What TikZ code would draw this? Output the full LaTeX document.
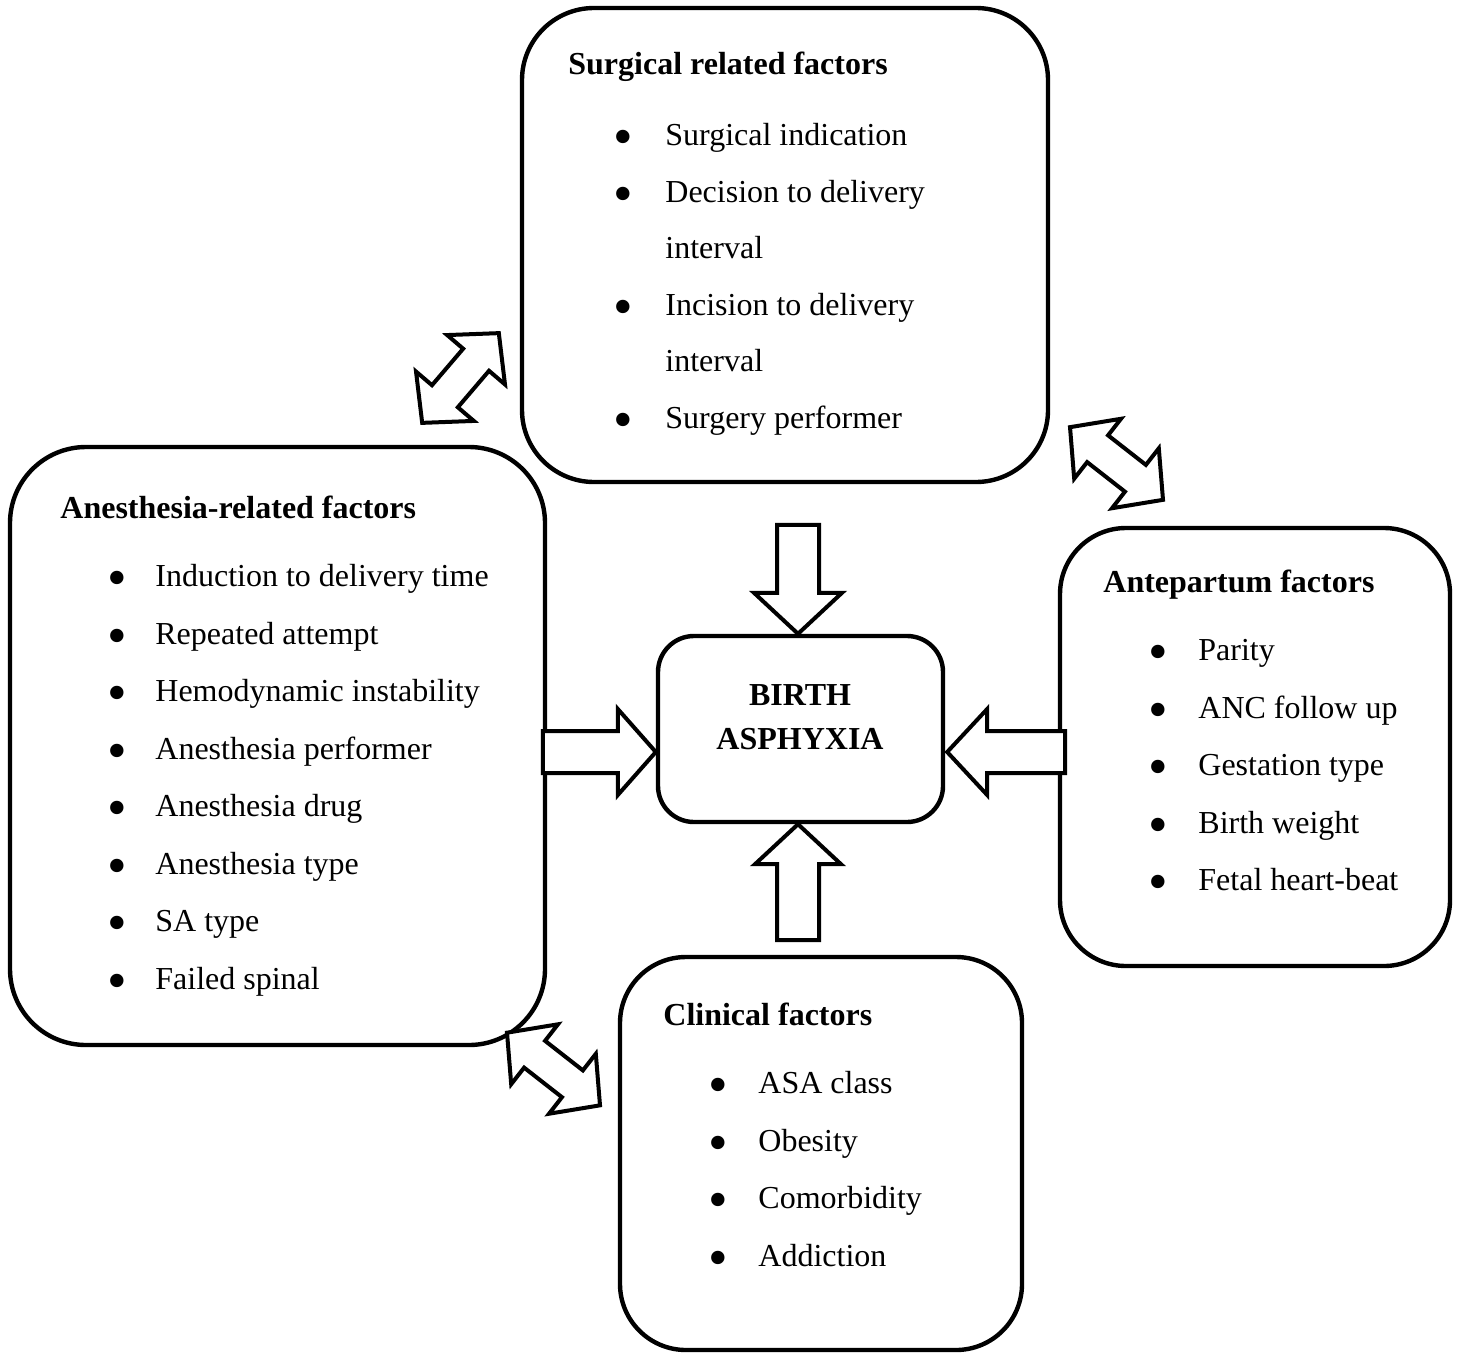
\documentclass[tikz,border=0pt]{standalone}
\usepackage{fontspec}
\setmainfont{Liberation Serif}
\usetikzlibrary{calc}
\begin{document}
\begin{tikzpicture}[x=0.5pt,y=-0.5pt,
  box/.style={draw, line width=2.2pt, inner sep=0pt},
  blk/.style={draw, line width=2pt, line join=miter, fill=white},
  hd/.style={anchor=base west, inner sep=0pt, font=\fontsize{16}{19}\selectfont\bfseries},
  itm/.style={anchor=base west, inner sep=0pt, font=\fontsize{16}{19}\selectfont},
  bul/.style={anchor=center, inner sep=0pt, yshift=1pt, font=\fontsize{28}{28}\selectfont},
  dbl/.pic={\draw[blk] (-59,0) -- (-24,-38) -- (-24,-17) -- (24,-17) -- (24,-38) -- (59,0)
      -- (24,38) -- (24,17) -- (-24,17) -- (-24,38) -- cycle;}
]
\useasboundingbox (0,0) rectangle (1460,1354);

% boxes
\node[box, rounded corners=36pt, minimum width=263pt, minimum height=237pt] (surg) at (785,245) {};
\node[box, rounded corners=38pt, minimum width=267.5pt, minimum height=299pt] (anes) at (277.5,746) {};
\node[box, rounded corners=18pt, minimum width=142.5pt, minimum height=93pt] (birth) at (800.5,729) {};
\node[box, rounded corners=33pt, minimum width=195pt, minimum height=219pt] (ante) at (1255,747) {};
\node[box, rounded corners=33pt, minimum width=201pt, minimum height=196.5pt] (clin) at (821,1153.5) {};

% centre text
\node[anchor=base, inner sep=0pt, font=\fontsize{16}{19}\selectfont\bfseries] (b1) at (800,705) {BIRTH};
\node[anchor=base, inner sep=0pt, font=\fontsize{16}{19}\selectfont\bfseries] (b2) at (800,749) {ASPHYXIA};

% surgical
\node[hd] (sh) at (568,75) {Surgical related factors};
\node[bul] (sb1) at (623,145) {\textbullet};
\node[itm] (s1) at (665,145) {Surgical indication};
\node[bul] (sb2) at (623,202) {\textbullet};
\node[itm] (s2) at (665,202) {Decision to delivery};
\node[itm] (s2b) at (665,258) {interval};
\node[bul] (sb3) at (623,315) {\textbullet};
\node[itm] (s3) at (665,315) {Incision to delivery};
\node[itm] (s3b) at (665,371) {interval};
\node[bul] (sb4) at (623,428) {\textbullet};
\node[itm] (s4) at (665,428) {Surgery performer};

% anesthesia
\node[hd] (ah) at (60,518) {Anesthesia-related factors};
\foreach \y/\t [count=\i] in {586/Induction to delivery time, 644/Repeated attempt, 701/Hemodynamic instability, 759/Anesthesia performer, 816/Anesthesia drug, 874/Anesthesia type, 931/SA type, 989/Failed spinal}{
  \node[bul] (ab\i) at (117,\y) {\textbullet};
  \node[itm] (a\i) at (155,\y) {\t};
}

% antepartum
\node[hd] (ph) at (1103,592) {Antepartum factors};
\foreach \y/\t [count=\i] in {660/Parity, 718/ANC follow up, 775/Gestation type, 833/Birth weight, 890/Fetal heart-beat}{
  \node[bul] (pb\i) at (1158,\y) {\textbullet};
  \node[itm] (p\i) at (1198,\y) {\t};
}

% clinical
\node[hd] (ch) at (663,1025) {Clinical factors};
\foreach \y/\t [count=\i] in {1093/ASA class, 1151/Obesity, 1208/Comorbidity, 1266/Addiction}{
  \node[bul] (cb\i) at (718,\y) {\textbullet};
  \node[itm] (c\i) at (758,\y) {\t};
}

% single block arrows pointing to the centre box
\coordinate (tN) at ($(birth.north)+(-2.5,0)$);
\coordinate (tS) at ($(birth.south)+(-2.5,0)$);
\coordinate (tW) at ($(birth.west)+(0,23)$);
\coordinate (tE) at ($(birth.east)+(2,23)$);
\draw[blk] (tN) -- ++(-44,-41) -- ++(23,0) -- ++(0,-68) -- ++(42,0) -- ++(0,68) -- ++(23,0) -- cycle;
\draw[blk] (tS) -- ++(-43,40) -- ++(22,0) -- ++(0,76) -- ++(42,0) -- ++(0,-76) -- ++(22,0) -- cycle;
\draw[blk] (tW) -- ++(-38,-43) -- ++(0,22) -- ++(-75,0) -- ++(0,42) -- ++(75,0) -- ++(0,22) -- cycle;
\draw[blk] (tE) -- ++(40,-43) -- ++(0,22) -- ++(78,0) -- ++(0,42) -- ++(-78,0) -- ++(0,22) -- cycle;

% double block arrows between outer boxes
\pic[rotate=49.5] at (460.5,378) {dbl};
\pic[rotate=-38] at (1116.5,463.5) {dbl};
\pic[rotate=-38] at (553.5,1069) {dbl};
\end{tikzpicture}
\end{document}
